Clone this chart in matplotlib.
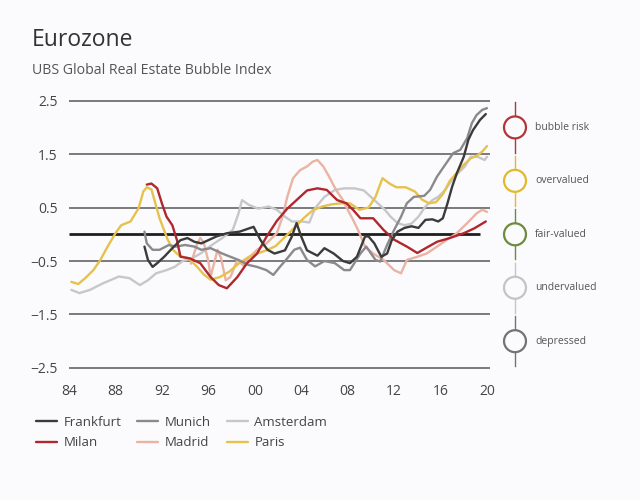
import numpy as np
import matplotlib
matplotlib.use("Agg")
import matplotlib.pyplot as plt

plt.rcParams['font.family'] = ['Open Sans', 'DejaVu Sans']

# ---- data (year, index value) ----
frankfurt_years = [1990.5, 1990.8, 1991.2, 1991.6, 1992.2, 1992.9, 1993.6, 1994.2, 1994.8, 1995.4,
                   1996.0, 1996.7, 1997.6, 1998.7, 1999.5, 1999.9, 2000.5, 2001.1, 2001.7, 2002.6,
                   2003.2, 2003.6, 2004.0, 2004.5, 2005.4, 2006.0, 2006.8, 2007.6, 2008.2, 2008.8,
                   2009.5, 2009.8, 2010.3, 2010.9, 2011.4, 2011.8, 2012.3, 2012.9, 2013.5, 2014.1,
                   2014.7, 2015.3, 2015.8, 2016.2, 2016.6, 2017.0, 2017.4, 2018.0, 2018.4, 2018.8,
                   2019.4, 2019.9]
frankfurt_vals = [-0.23, -0.48, -0.61, -0.54, -0.42, -0.26, -0.11, -0.07, -0.14, -0.17,
                  -0.11, -0.04, 0.02, 0.05, 0.11, 0.14, -0.11, -0.29, -0.36, -0.30,
                  -0.04, 0.21, -0.04, -0.30, -0.40, -0.26, -0.36, -0.50, -0.54, -0.42,
                  -0.04, -0.04, -0.17, -0.42, -0.36, -0.11, 0.05, 0.12, 0.15, 0.12,
                  0.27, 0.28, 0.24, 0.30, 0.58, 0.89, 1.14, 1.45, 1.77, 1.95,
                  2.14, 2.25]

munich_years = [1990.5, 1990.7, 1991.2, 1991.8, 1992.6, 1993.2, 1994.0, 1994.8, 1995.4, 1996.2,
                1997.2, 1998.6, 1999.4, 2000.2, 2001.0, 2001.6, 2002.2, 2002.8, 2003.4, 2003.9,
                2004.5, 2005.2, 2006.0, 2006.9, 2007.7, 2008.2, 2009.1, 2009.6, 2010.4, 2010.8,
                2011.4, 2012.0, 2012.6, 2013.1, 2013.7, 2014.6, 2015.1, 2015.7, 2016.3, 2017.1,
                2017.7, 2018.3, 2018.7, 2019.1, 2019.6, 2020.0]
munich_vals = [0.05, -0.17, -0.29, -0.29, -0.20, -0.23, -0.20, -0.23, -0.29, -0.26,
               -0.36, -0.48, -0.57, -0.61, -0.67, -0.76, -0.60, -0.45, -0.29, -0.25,
               -0.48, -0.60, -0.50, -0.54, -0.67, -0.67, -0.36, -0.23, -0.48, -0.51,
               -0.20, 0.08, 0.33, 0.58, 0.70, 0.72, 0.83, 1.08, 1.27, 1.52,
               1.58, 1.80, 2.08, 2.23, 2.33, 2.36]

amsterdam_years = [1984.2, 1984.9, 1985.8, 1986.9, 1988.3, 1989.2, 1990.1, 1990.8, 1991.5, 1992.4,
                   1993.1, 1993.8, 1994.6, 1995.4, 1996.3, 1997.2, 1998.1, 1998.6, 1998.9, 1999.5,
                   2000.3, 2001.2, 2001.9, 2002.6, 2003.2, 2004.1, 2004.7, 2005.2, 2006.0, 2006.9,
                   2007.7, 2008.6, 2009.4, 2010.0, 2010.6, 2011.2, 2011.7, 2012.3, 2012.9, 2013.5,
                   2014.1, 2014.7, 2015.3, 2015.8, 2016.4, 2017.0, 2017.5, 2018.1, 2018.6, 2019.2,
                   2019.8, 2020.0]
amsterdam_vals = [-1.04, -1.10, -1.04, -0.92, -0.79, -0.82, -0.95, -0.86, -0.73, -0.67,
                  -0.61, -0.50, -0.45, -0.35, -0.20, -0.07, 0.08, 0.39, 0.64, 0.55,
                  0.48, 0.52, 0.46, 0.33, 0.24, 0.24, 0.22, 0.49, 0.70, 0.83,
                  0.86, 0.86, 0.82, 0.70, 0.58, 0.46, 0.33, 0.21, 0.17, 0.20,
                  0.33, 0.52, 0.64, 0.70, 0.83, 1.02, 1.14, 1.27, 1.45, 1.45,
                  1.39, 1.45]

milan_years = [1990.7, 1991.1, 1991.6, 1992.0, 1992.4, 1992.9, 1993.3, 1993.6, 1994.4, 1995.3,
               1996.2, 1996.9, 1997.6, 1998.5, 1999.3, 2000.2, 2001.0, 2001.9, 2002.8, 2003.6,
               2004.5, 2005.4, 2006.2, 2007.1, 2007.9, 2008.5, 2009.1, 2010.2, 2011.1, 2012.0,
               2013.1, 2014.0, 2014.8, 2015.7, 2016.8, 2018.0, 2018.9, 2019.9]
milan_vals = [0.93, 0.95, 0.86, 0.58, 0.33, 0.17, -0.11, -0.42, -0.45, -0.54,
              -0.80, -0.95, -1.01, -0.80, -0.55, -0.36, -0.05, 0.25, 0.48, 0.64,
              0.82, 0.86, 0.83, 0.64, 0.58, 0.45, 0.30, 0.30, 0.08, -0.10,
              -0.23, -0.35, -0.25, -0.14, -0.07, 0.02, 0.11, 0.24]

madrid_years = [1994.5, 1995.0, 1995.3, 1995.6, 1996.0, 1996.2, 1996.5, 1996.8, 1997.1, 1997.5,
                1997.9, 1998.5, 1999.1, 1999.3, 2000.2, 2001.0, 2001.9, 2002.4, 2002.8, 2003.3,
                2003.9, 2004.5, 2005.0, 2005.4, 2005.9, 2006.4, 2007.0, 2007.6, 2008.0, 2008.4,
                2008.9, 2009.5, 2010.2, 2011.1, 2012.0, 2012.6, 2013.1, 2014.0, 2014.8, 2015.7,
                2016.5, 2017.4, 2018.3, 2019.1, 2019.6, 2020.0]
madrid_vals = [-0.55, -0.20, -0.07, -0.15, -0.50, -0.79, -0.54, -0.29, -0.45, -0.86,
               -0.80, -0.48, -0.60, -0.48, -0.29, -0.17, 0.02, 0.33, 0.70, 1.05,
               1.20, 1.27, 1.36, 1.39, 1.27, 1.08, 0.83, 0.64, 0.46, 0.30,
               0.08, -0.23, -0.36, -0.48, -0.67, -0.73, -0.48, -0.42, -0.36, -0.23,
               -0.11, 0.02, 0.21, 0.39, 0.46, 0.42]

paris_years = [1984.2, 1984.8, 1985.4, 1986.1, 1986.7, 1987.25, 1988.0, 1988.5, 1989.3, 1990.0,
               1990.4, 1990.7, 1991.1, 1991.8, 1992.5, 1993.0, 1993.5, 1994.3, 1995.0, 1995.6,
               1996.2, 1997.0, 1997.8, 1998.6, 1999.5, 2000.2, 2001.0, 2001.8, 2002.6, 2003.4,
               2004.2, 2005.0, 2005.8, 2006.6, 2007.4, 2008.2, 2009.0, 2009.8, 2010.4, 2011.0,
               2011.6, 2012.2, 2013.0, 2013.8, 2014.4, 2015.0, 2015.6, 2016.2, 2016.8, 2017.4,
               2018.0, 2018.6, 2019.2, 2019.6, 2020.0]
paris_vals = [-0.89, -0.93, -0.82, -0.67, -0.48, -0.26, 0.02, 0.17, 0.24, 0.49,
              0.80, 0.88, 0.84, 0.30, -0.10, -0.30, -0.40, -0.45, -0.60, -0.75,
              -0.85, -0.80, -0.70, -0.55, -0.42, -0.36, -0.30, -0.22, -0.05, 0.12,
              0.30, 0.45, 0.52, 0.56, 0.58, 0.58, 0.46, 0.50, 0.70, 1.05,
              0.95, 0.88, 0.88, 0.80, 0.65, 0.58, 0.60, 0.75, 1.00, 1.15,
              1.30, 1.42, 1.48, 1.55, 1.65]

y_ticks = [2.5, 1.5, 0.5, -0.5, -1.5, -2.5]
x_ticks = [1984, 1988, 1992, 1996, 2000, 2004, 2008, 2012, 2016, 2020]
x_labels = ['84', '88', '92', '96', '00', '04', '08', '12', '16', '20']

zone_levels = [2, 1, 0, -1, -2]
zone_names = ['bubble risk', 'overvalued', 'fair-valued', 'undervalued', 'depressed']
zone_colors = ['#b3343b', '#e2b92c', '#6f8a3c', '#c4c4c6', '#737373']

series = [
    ('Amsterdam', amsterdam_years, amsterdam_vals, '#c7c7ca'),
    ('Madrid', madrid_years, madrid_vals, '#eab3a4'),
    ('Paris', paris_years, paris_vals, '#e6c14c'),
    ('Munich', munich_years, munich_vals, '#8a8a8c'),
    ('Milan', milan_years, milan_vals, '#b0272d'),
    ('Frankfurt', frankfurt_years, frankfurt_vals, '#3b3b3b'),
]

bg = '#fbfbfd'
fig = plt.figure(figsize=(6.4, 5.0), dpi=100, facecolor=bg)
ax = fig.add_axes([69 / 640, 1 - 378.6 / 500, (490 - 69) / 640, 288.6 / 500])
ax.set_facecolor(bg)
ax.set_xlim(1984, 1984 + (490 - 69) / 11.61)
ax.set_ylim(-2.7, 2.7)

for yv in y_ticks:
    ax.axhline(yv, color='#707070', lw=1.3, zorder=1)
ax.hlines(0, 1984, 2019.4, color='#1e1e1e', lw=2.0, zorder=1)

lines = {}
for name, xs, ys, col in series:
    ln, = ax.plot(xs, ys, color=col, lw=1.7, zorder=3, solid_capstyle='round')
    lines[name] = ln

for s in ax.spines.values():
    s.set_visible(False)
ax.set_yticks(y_ticks)
ax.set_yticklabels(['2.5', '1.5', '0.5', '\u22120.5', '\u22121.5', '\u22122.5'])
ax.set_xticks(x_ticks)
ax.set_xticklabels(x_labels)
ax.tick_params(length=0, labelsize=10, labelcolor='#444444')
ax.tick_params(axis='y', pad=8)
ax.tick_params(axis='x', pad=4)

# valuation zones on the right
xz = 1984 + (515 - 69) / 11.61
bounds = [2.5, 1.5, 0.5, -0.5, -1.5, -2.5]
for i, col in enumerate(zone_colors):
    ax.plot([xz, xz], [bounds[i] - 0.03, bounds[i + 1] + 0.03], color=col, lw=1.0,
            clip_on=False, zorder=2)
ax.scatter([xz] * 5, zone_levels, s=250, facecolor=bg, edgecolor=zone_colors,
           linewidths=1.6, clip_on=False, zorder=4)
for lev, nm in zip(zone_levels, zone_names):
    ax.text(xz + 1.75, lev, nm, fontsize=7.5, color='#555555', va='center', ha='left',
            clip_on=False)

# titles
fig.text(32 / 640, 1 - 40 / 500, 'Eurozone', fontsize=16.5, color='#333333',
         va='center', ha='left')
fig.text(32 / 640, 1 - 71 / 500, 'UBS Global Real Estate Bubble Index', fontsize=10.2,
         color='#555555', va='center', ha='left')

order = ['Frankfurt', 'Milan', 'Munich', 'Madrid', 'Amsterdam', 'Paris']
fig.legend([lines[n] for n in order], order, ncol=3, frameon=False, loc='upper left',
           bbox_to_anchor=(0.037, 1 - 404 / 500), fontsize=9.5, handlelength=1.6,
           handletextpad=0.5, columnspacing=1.2, labelspacing=0.55, labelcolor='#444444')

fig.savefig('out.png', dpi=100, facecolor=bg)
